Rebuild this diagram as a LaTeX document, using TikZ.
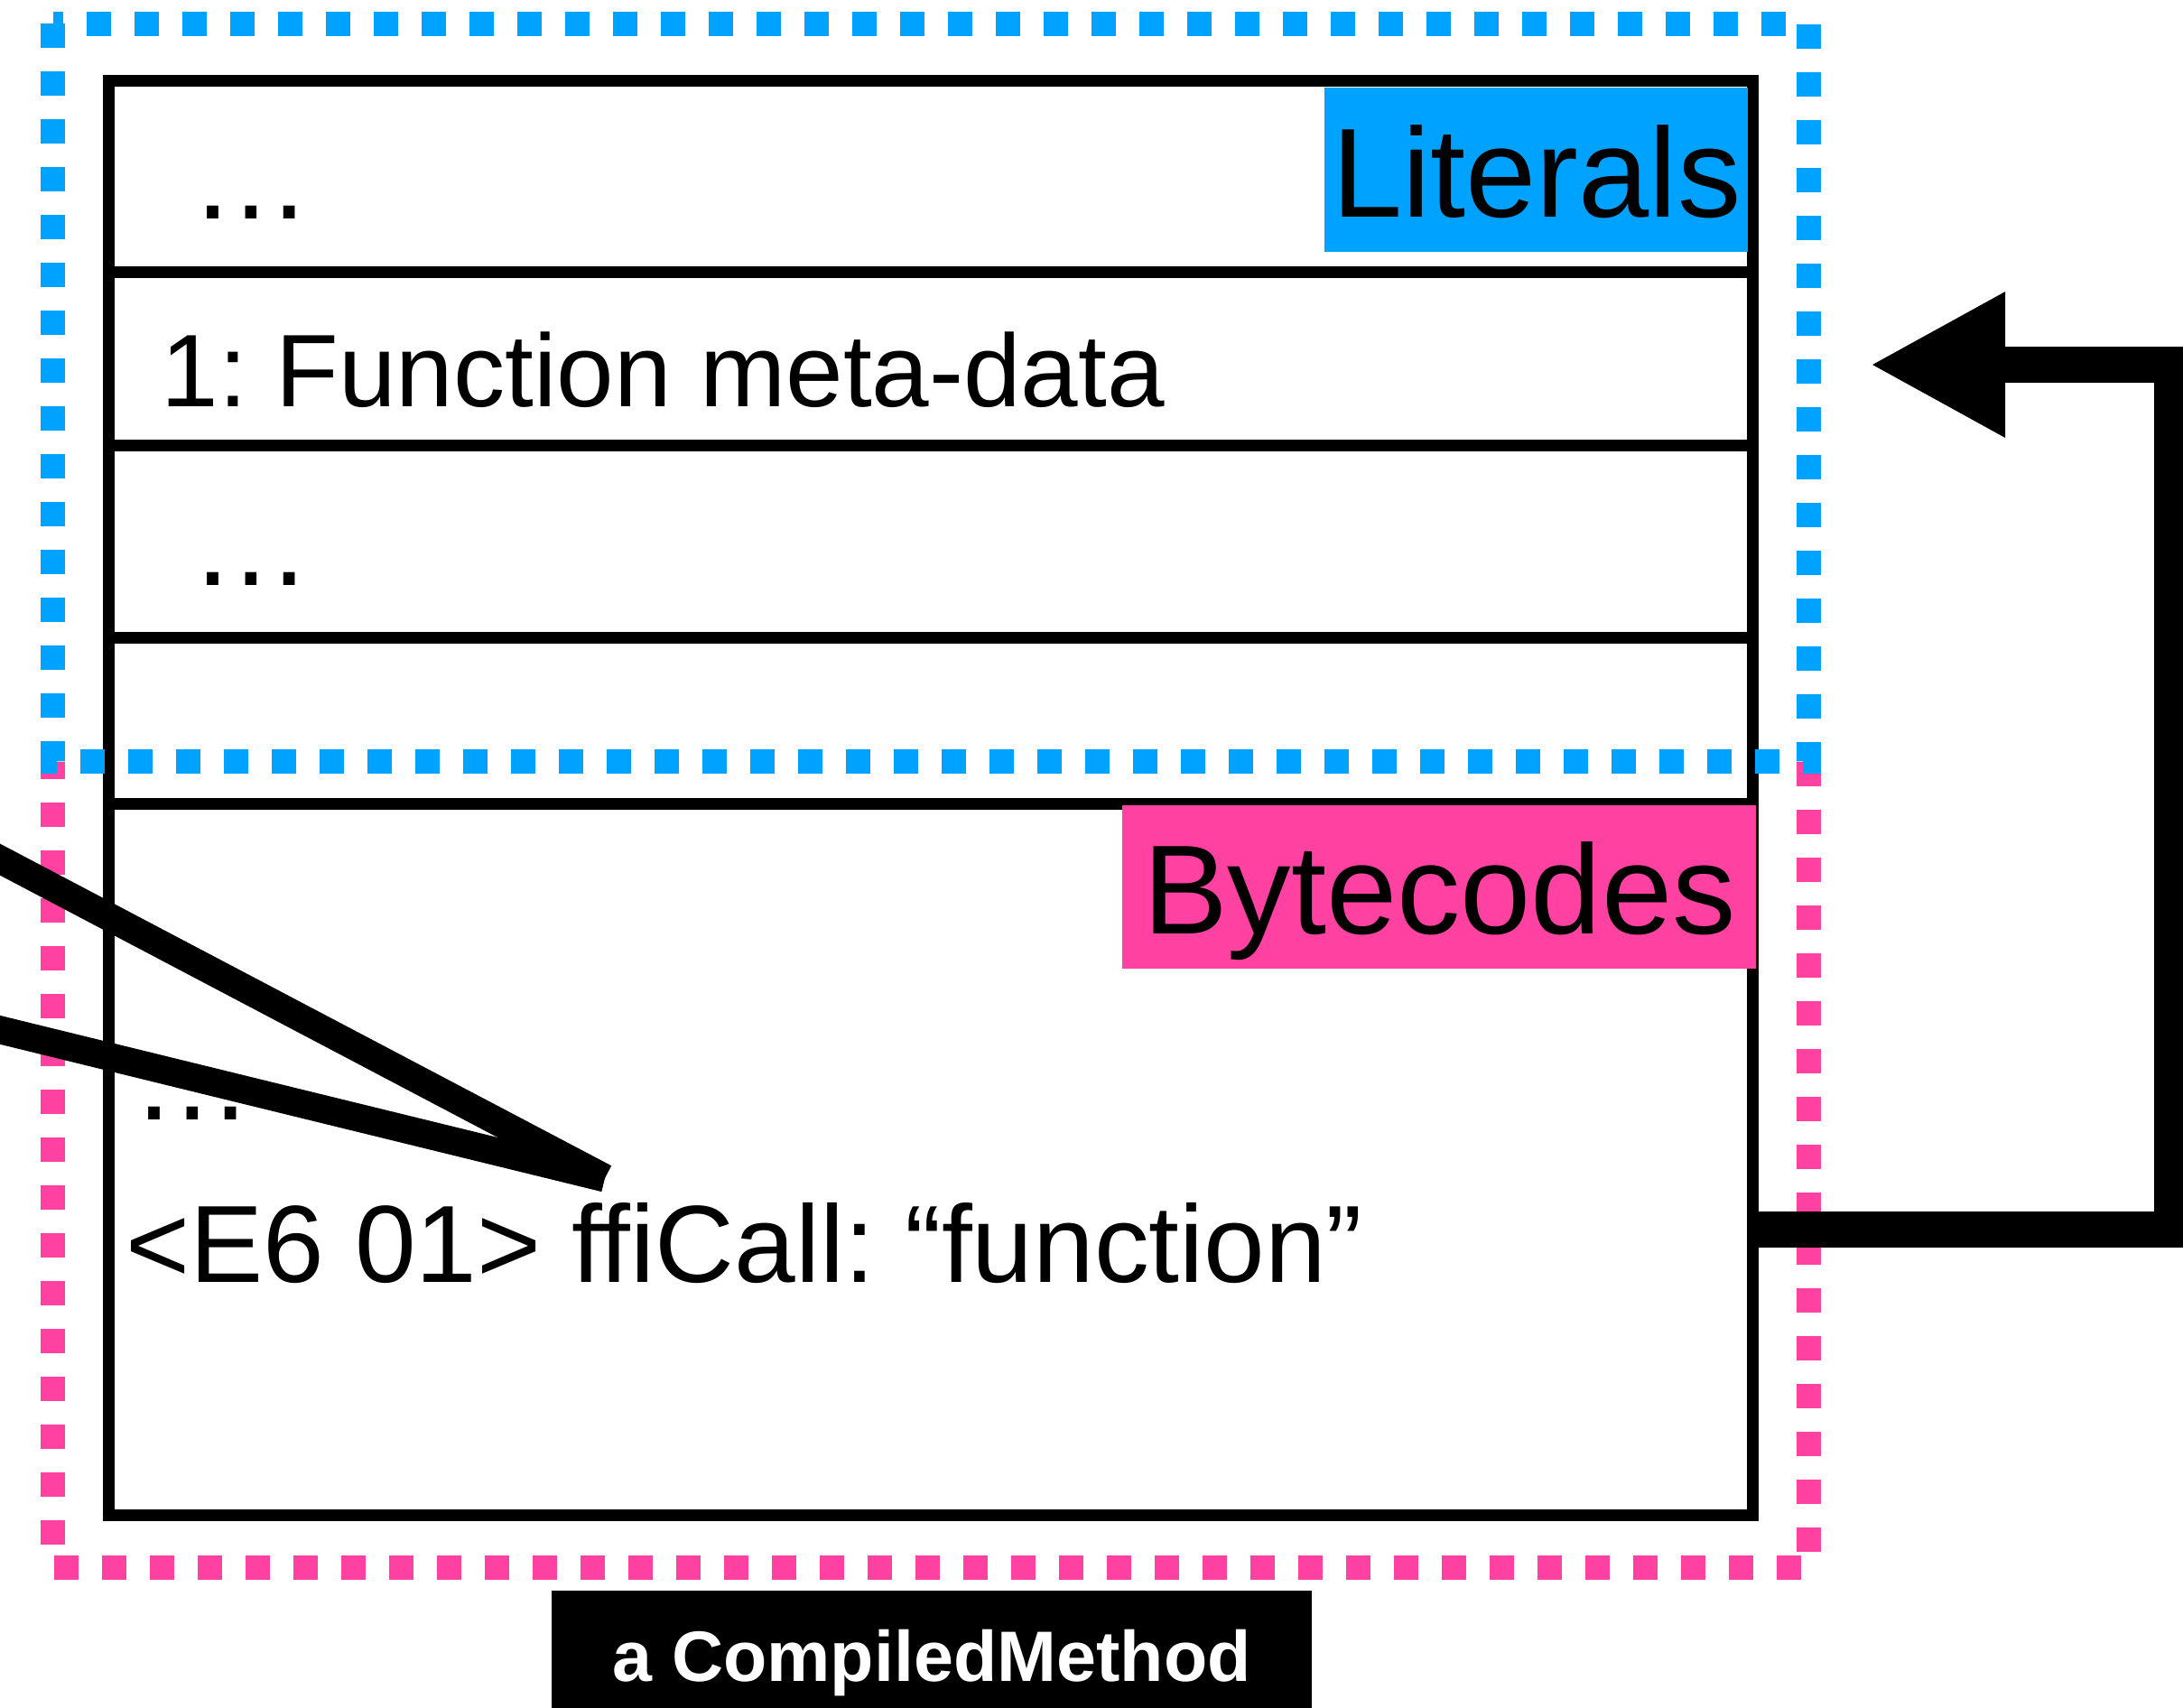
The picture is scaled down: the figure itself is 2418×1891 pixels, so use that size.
\documentclass[tikz,border=0pt]{standalone}
\usepackage{fontspec}
\setmainfont{Liberation Sans}
\frenchspacing
\usetikzlibrary{positioning,arrows.meta}
\definecolor{litblue}{RGB}{0,162,255}
\definecolor{codepink}{RGB}{255,66,161}

\begin{document}
\begin{tikzpicture}[x=0.1mm, y=-0.1mm,
    row/.style={draw, line width=3.7pt, minimum width=182.1mm, inner sep=0pt, outer sep=0pt},
    entry/.style={anchor=base west, inner sep=0pt, font=\fontsize{32.5}{38}\selectfont},
    gap/.style={anchor=base west, inner sep=0pt, font=\fontsize{38}{46}\selectfont},
    tag/.style={inner sep=0pt, text height=30pt, text depth=0pt, font=\fontsize{40}{48}\selectfont},
    region/.style={line width=2.7mm, dash pattern=on 2.7mm off 2.6mm},
    link/.style={line width=3.1mm}]
  \useasboundingbox (0,0) rectangle (2418,1891);
  % slots of the method
  \node[row, minimum height=21.2mm, anchor=north west] (lit1) at (120,89) {};
  \node[row, minimum height=19.2mm, below=0pt of lit1] (lit2) {};
  \node[row, minimum height=21.3mm, below=0pt of lit2] (lit3) {};
  \node[row, minimum height=18.4mm, below=0pt of lit3] (lit4) {};
  \node[row, minimum height=78.8mm, below=0pt of lit4] (code) {};
  \node[tag, fill=litblue, minimum width=46.9mm, minimum height=18.2mm, anchor=north east] (litname) at (1937,96) {Literals};
  \node[tag, fill=codepink, minimum width=70.2mm, minimum height=18.1mm, anchor=north east] (codename) at (1946,891) {Bytecodes};
  \node[gap] (slot1) at (211,242) {…};
  \node[entry] (slot2) at (178,450) {1: Function meta-data};
  \node[gap] (slot3) at (211,648) {…};
  \node[gap] (op1) at (146,1240) {…};
  \node[entry, font=\fontsize{34.6}{40}\selectfont] (op2) at (139,1420) {<E6 01> ffiCall: “function”};
  % literal and bytecode areas
  \draw[region, codepink] (2003,843.5) -- (2003,1736) -- (58.6,1736) -- (58.6,843.5);
  \draw[region, litblue] (58.6,26) rectangle (2003,843.5);
  \node[fill=black, text=white, font=\bfseries\fontsize{22.5}{27}\selectfont, minimum width=84.2mm, minimum height=13mm,
        inner sep=0pt, text height=20.5pt, text depth=0pt, anchor=north] (caption) at (1032,1761) {a CompiledMethod};
  % references
  \coordinate (ffi) at (670,1305);
  \coordinate (caller1) at (-40,931);
  \coordinate (caller2) at (-40,1131);
  \draw[link] (caller1) -- (ffi);
  \draw[link] (caller2) -- (ffi);
  \draw[link, line width=4mm, -{Triangle[length=15mm, width=15mm]}]
    ([yshift=-7.8mm]code.east) -- ++(465,0) |- ([xshift=13mm, yshift=-0.7mm]lit2.east);
\end{tikzpicture}
\end{document}
